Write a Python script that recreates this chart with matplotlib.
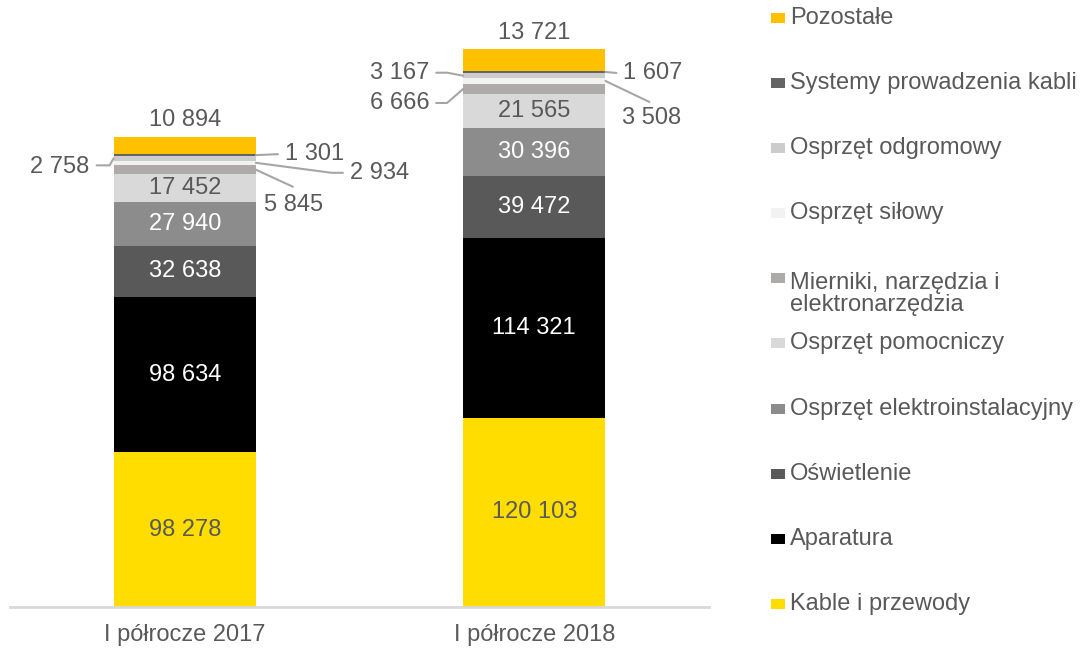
import matplotlib
matplotlib.use("Agg")
import matplotlib.pyplot as plt
from matplotlib.patches import Rectangle
import numpy as np

plt.rcParams['font.family'] = ['Liberation Sans', 'DejaVu Sans']

# DATA
categories = ['I półrocze 2017', 'I półrocze 2018']
series = ['Kable i przewody', 'Aparatura', 'Oświetlenie', 'Osprzęt elektroinstalacyjny',
          'Osprzęt pomocniczy', 'Mierniki, narzędzia i\nelektronarzędzia', 'Osprzęt siłowy',
          'Osprzęt odgromowy', 'Systemy prowadzenia kabli', 'Pozostałe']
kable = [98278, 120103]
aparatura = [98634, 114321]
oswietlenie = [32638, 39472]
elektro = [27940, 30396]
pomocniczy = [17452, 21565]
mierniki = [5845, 6666]
silowy = [2934, 3508]
odgromowy = [2758, 3167]
systemy = [1301, 1607]
pozostale = [10894, 13721]
values = [kable, aparatura, oswietlenie, elektro, pomocniczy, mierniki, silowy, odgromowy, systemy, pozostale]

colors = ['#FFDD00', '#000000', '#595959', '#8C8C8C', '#D9D9D9',
          '#AEAAAA', '#F2F2F2', '#CCCCCC', '#646464', '#FFC000']
inner_color = ['#595959', 'white', 'white', 'white', '#595959']
txt = '#595959'
fs = 17

def fmt(v):
    return f"{v:,}".replace(",", " ")

fig = plt.figure(figsize=(10.9, 6.48), dpi=100)
ax = fig.add_axes([0.0092, 0.0633, 0.6413, 0.9228])
x = np.arange(len(categories))
width = 0.407

bottoms = np.zeros(len(categories))
mids = []
for vals, c in zip(values, colors):
    vals = np.array(vals, dtype=float)
    ax.bar(x, vals, width, bottom=bottoms, color=c, edgecolor='none')
    mids.append(bottoms + vals / 2)
    bottoms = bottoms + vals
mids = np.array(mids)

ax.set_xlim(-0.5, 1.5)
ax.set_ylim(0, 380000)
for s in ['top', 'right', 'left']:
    ax.spines[s].set_visible(False)
ax.spines['bottom'].set_color('#D9D9D9')
ax.spines['bottom'].set_linewidth(2)
ax.set_yticks([])
ax.set_xticks(x)
ax.set_xticklabels(categories, fontsize=fs, color=txt)
ax.tick_params(axis='x', length=0, pad=12)

# labels inside the bars
for si in range(5):
    for bi in range(len(categories)):
        ax.text(x[bi], mids[si, bi], fmt(values[si][bi]), ha='center', va='center',
                fontsize=fs, color=inner_color[si])

# value of the top segment above the bar
for bi in range(len(categories)):
    ax.annotate(fmt(pozostale[bi]), xy=(x[bi], bottoms[bi]), xytext=(0, 4),
                textcoords='offset points', ha='center', va='bottom', fontsize=fs, color=txt)

# callouts for small segments: (bar, series idx, side, line end px, text px, ha, kink angle)
callouts = [
    (0, 7, -1, (-17, 7), (-24, 9), 'right', 60),
    (0, 8, 1, (22, -1), (29, -1), 'left', None),
    (0, 6, 1, (87, 10), (94, 10), 'left', -7.5),
    (0, 5, 1, (37, 17), (38, 35), 'center', None),
    (1, 7, -1, (-27, -3), (-34, -3), 'right', -10.6),
    (1, 5, -1, (-27, 14), (-34, 14), 'right', 41),
    (1, 8, 1, (11, 1), (18, 1), 'left', None),
    (1, 6, 1, (44, 21), (46, 37), 'center', None),
]
k = 0.72  # px -> points at 100 dpi
for bi, si, side, lend, tpos, ha, ang in callouts:
    anchor = (x[bi] + side * width / 2, mids[si, bi])
    if ang is None:
        cs = 'arc3,rad=0'
    else:
        cs = f'angle,angleA=0,angleB={ang},rad=0'
    ax.annotate('', xy=anchor, xytext=(lend[0] * k, -lend[1] * k), textcoords='offset points',
                arrowprops=dict(arrowstyle='-', color='#A6A6A6', lw=1.5,
                                shrinkA=0, shrinkB=0, connectionstyle=cs))
    ax.annotate(fmt(values[si][bi]), xy=anchor, xytext=(tpos[0] * k, -tpos[1] * k),
                textcoords='offset points', ha=ha, va='center', fontsize=fs, color=txt)

# legend drawn by hand (top to bottom = reversed stack order)
row_y = 18
for name, c in zip(series[::-1], colors[::-1]):
    yf = 1 - row_y / 648
    fig.add_artist(Rectangle((771 / 1090, yf - 5 / 648), 14 / 1090, 10 / 648,
                             transform=fig.transFigure, color=c, lw=0))
    if '\n' in name:
        fig.text(790 / 1090, yf + 6 / 648, name, fontsize=fs, color=txt, ha='left',
                 va='top', linespacing=1.0)
    else:
        fig.text(790 / 1090, yf, name, fontsize=fs, color=txt, ha='left', va='center')
    row_y += 65.1

fig.savefig('out.png', dpi=100)
